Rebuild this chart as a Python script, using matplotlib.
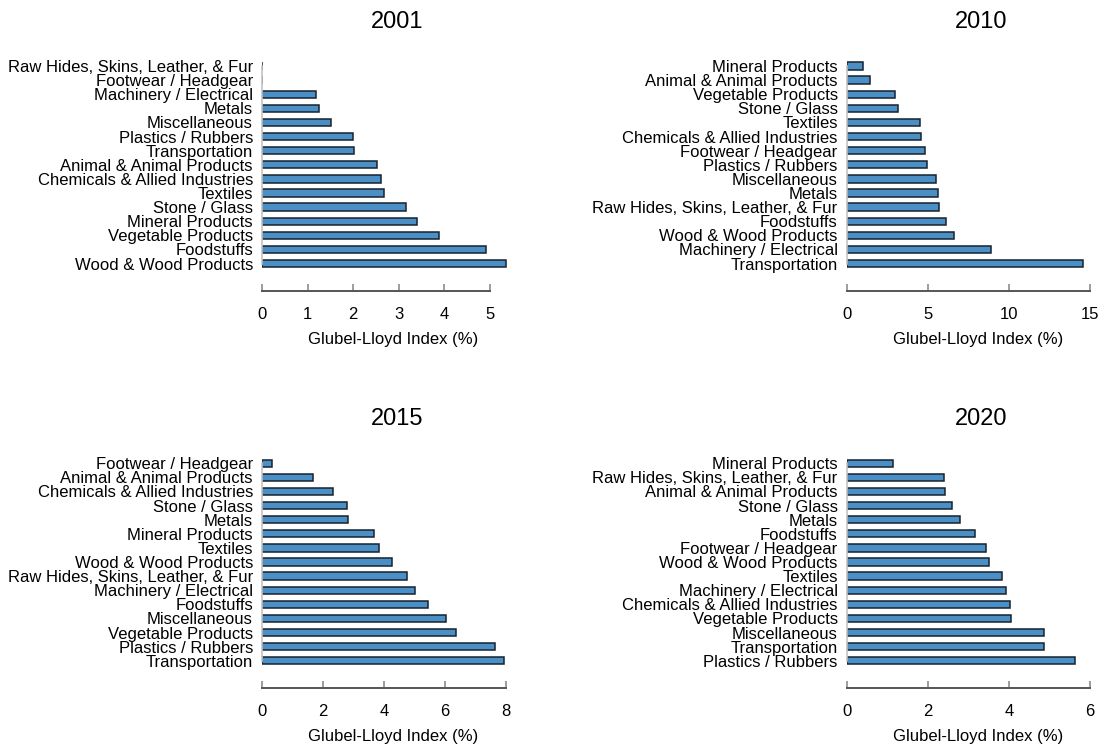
import matplotlib

matplotlib.use("Agg")
import matplotlib.pyplot as plt
import numpy as np

plt.rcParams["font.family"] = ["Liberation Sans", "DejaVu Sans"]

# Glubel-Lloyd index by product group, one list per year (top to bottom)
cats_2001 = [
    "Raw Hides, Skins, Leather, & Fur", "Footwear / Headgear",
    "Machinery / Electrical", "Metals", "Miscellaneous", "Plastics / Rubbers",
    "Transportation", "Animal & Animal Products",
    "Chemicals & Allied Industries", "Textiles", "Stone / Glass",
    "Mineral Products", "Vegetable Products", "Foodstuffs",
    "Wood & Wood Products",
]
vals_2001 = [0.0, 0.0, 1.18, 1.24, 1.51, 1.99, 2.01, 2.52, 2.62, 2.68, 3.16,
             3.40, 3.89, 4.92, 5.34]

cats_2010 = [
    "Mineral Products", "Animal & Animal Products", "Vegetable Products",
    "Stone / Glass", "Textiles", "Chemicals & Allied Industries",
    "Footwear / Headgear", "Plastics / Rubbers", "Miscellaneous", "Metals",
    "Raw Hides, Skins, Leather, & Fur", "Foodstuffs", "Wood & Wood Products",
    "Machinery / Electrical", "Transportation",
]
vals_2010 = [1.03, 1.46, 2.98, 3.18, 4.52, 4.56, 4.85, 4.93, 5.47, 5.61, 5.71,
             6.10, 6.58, 8.90, 14.55]

cats_2015 = [
    "Footwear / Headgear", "Animal & Animal Products",
    "Chemicals & Allied Industries", "Stone / Glass", "Metals",
    "Mineral Products", "Textiles", "Wood & Wood Products",
    "Raw Hides, Skins, Leather, & Fur", "Machinery / Electrical",
    "Foodstuffs", "Miscellaneous", "Vegetable Products", "Plastics / Rubbers",
    "Transportation",
]
vals_2015 = [0.34, 1.69, 2.32, 2.78, 2.82, 3.68, 3.85, 4.27, 4.76, 5.04, 5.45,
             6.05, 6.36, 7.64, 7.96]

cats_2020 = [
    "Mineral Products", "Raw Hides, Skins, Leather, & Fur",
    "Animal & Animal Products", "Stone / Glass", "Metals", "Foodstuffs",
    "Footwear / Headgear", "Wood & Wood Products", "Textiles",
    "Machinery / Electrical", "Chemicals & Allied Industries",
    "Vegetable Products", "Miscellaneous", "Transportation",
    "Plastics / Rubbers",
]
vals_2020 = [1.15, 2.39, 2.41, 2.60, 2.78, 3.17, 3.43, 3.51, 3.83, 3.93, 4.03,
             4.04, 4.86, 4.87, 5.63]

years = ["2001", "2010", "2015", "2020"]
xticks_2001 = [0, 1, 2, 3, 4, 5]
xticks_2010 = [0, 5, 10, 15]
xticks_2015 = [0, 2, 4, 6, 8]
xticks_2020 = [0, 2, 4, 6]

panels = [
    (years[0], cats_2001, vals_2001, xticks_2001),
    (years[1], cats_2010, vals_2010, xticks_2010),
    (years[2], cats_2015, vals_2015, xticks_2015),
    (years[3], cats_2020, vals_2020, xticks_2020),
]

W, H = 1115, 749
fig = plt.figure(figsize=(W / 100, H / 100), dpi=100)

# axes boxes in pixels: left, top, width, height
lefts = [262, 846.7, 262, 846.7]
tops = [59, 59, 456.2, 456.2]
ax_w, ax_h = 263, 211.6
X_PAD = 1.08  # room to the right of the longest bar / last tick

BAR_COLOR = "#4a8fc6"
EDGE_COLOR = "#17222e"

for i, (year, cats, vals, ticks) in enumerate(panels):
    ax = fig.add_axes([lefts[i] / W, 1 - (tops[i] + ax_h) / H, ax_w / W, ax_h / H])
    y = np.arange(len(cats))
    ax.barh(y, vals, height=0.52, color=BAR_COLOR, edgecolor=EDGE_COLOR,
            linewidth=1.1)
    ax.set_ylim(len(cats) - 0.5, -0.5)
    ax.set_xlim(0, X_PAD * max(max(vals), ticks[-1]))
    ax.set_yticks(y)
    ax.set_yticklabels(cats)
    ax.set_xticks(ticks)
    ax.tick_params(axis="y", length=0, pad=6.5, labelsize=12, colors="black")
    ax.tick_params(axis="x", direction="in", length=5, width=1.2,
                   color="#8c8c8c", pad=11.5, labelsize=12, labelcolor="black")

    for side in ("top", "right"):
        ax.spines[side].set_visible(False)
    ax.spines["bottom"].set_position(("outward", 14.6))
    ax.spines["bottom"].set_bounds(ticks[0], ticks[-1])
    ax.spines["bottom"].set_color("#555555")
    ax.spines["bottom"].set_linewidth(1.4)
    ax.spines["left"].set_bounds(0, len(cats) - 1)
    ax.spines["left"].set_color("#c4c4c4")
    ax.spines["left"].set_linewidth(1.2)

    ax.set_xlabel("Glubel-Lloyd Index (%)", fontsize=12, labelpad=7.5)
    ax.text(0.513, 1.0 + 31 / ax_h, year, transform=ax.transAxes,
            ha="center", va="baseline", fontsize=17)

fig.savefig("out.png", dpi=100)
